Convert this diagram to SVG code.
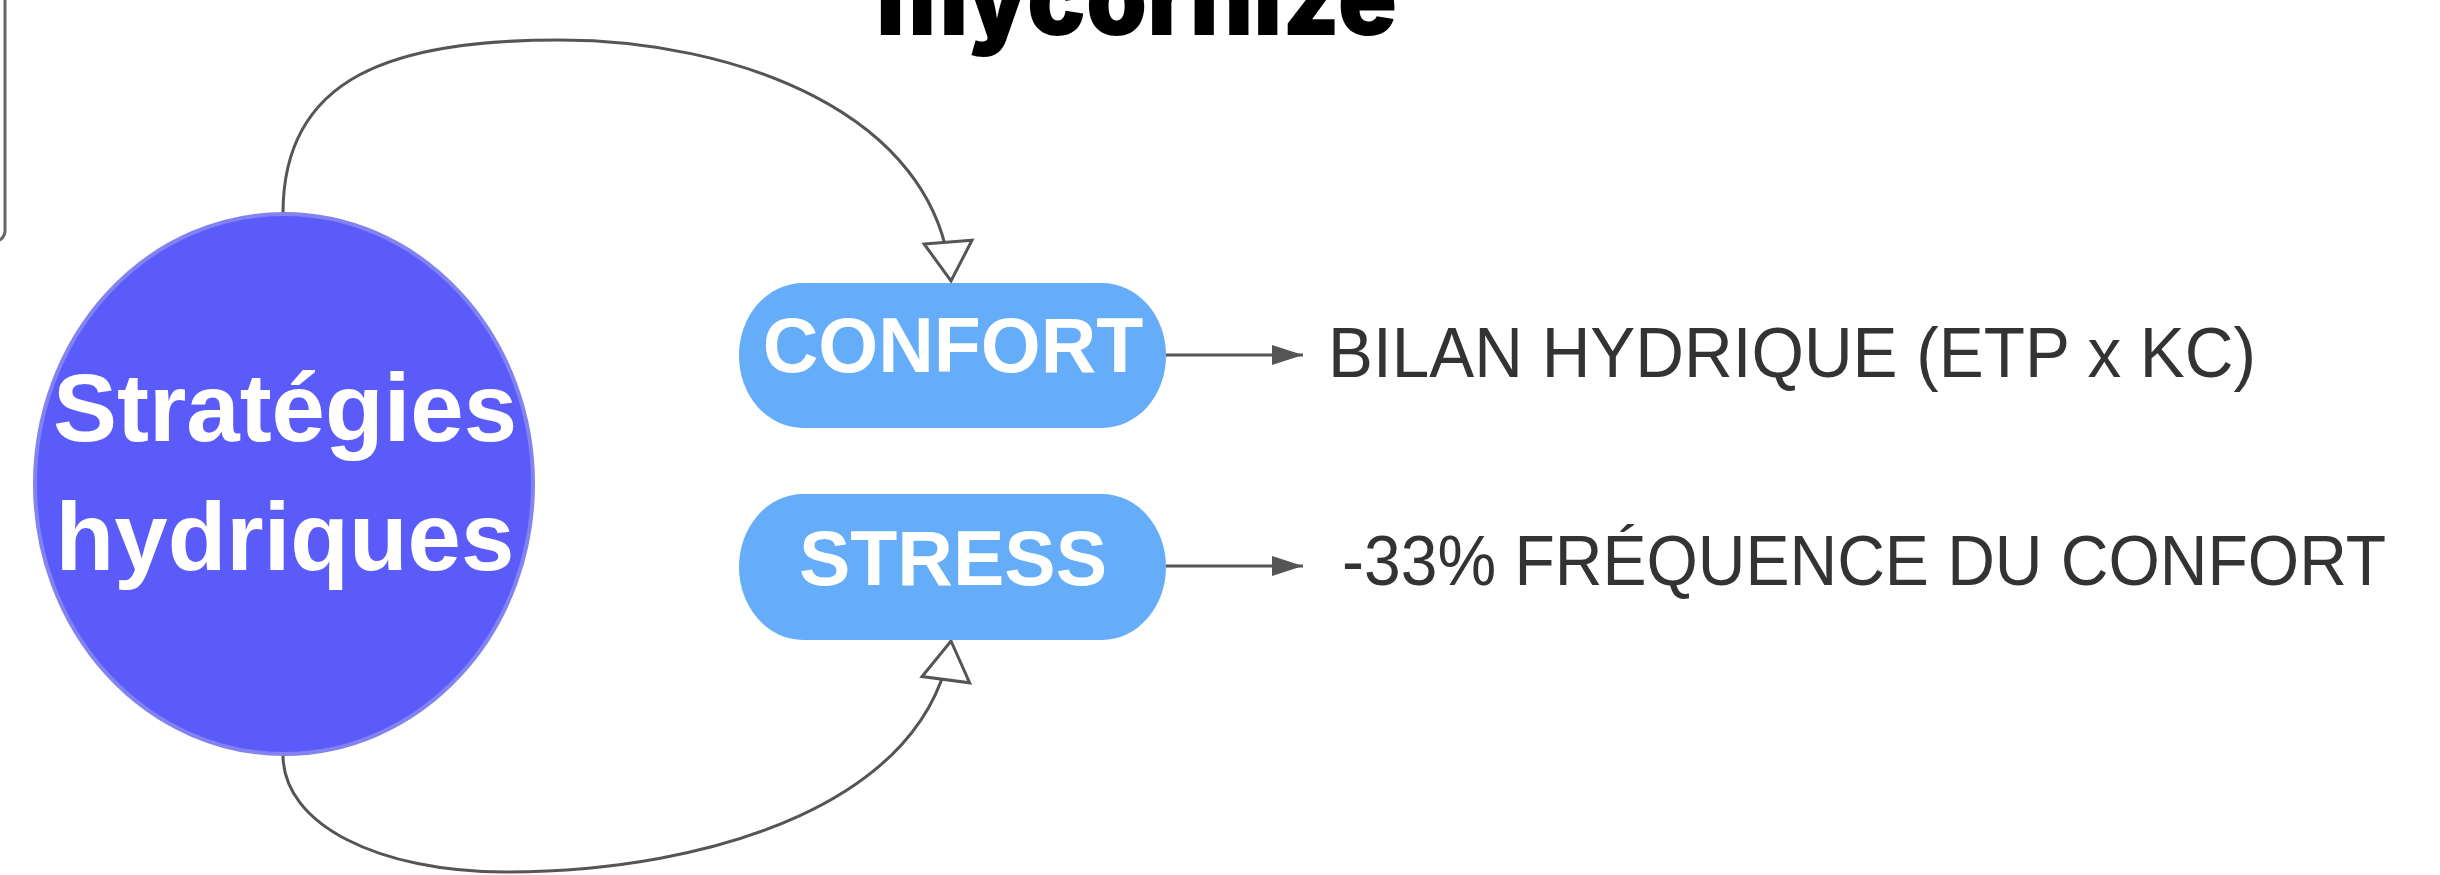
<svg xmlns="http://www.w3.org/2000/svg" width="2440" height="875" viewBox="0 0 2440 875">
  <style>
    .link { fill: none; stroke: #555555; stroke-width: 3; }
    .pill { fill: #66ADF9; }
    .pill-label { font-family: "Liberation Sans", Arial, sans-serif; font-weight: bold; font-size: 77px; fill: #FFFFFF; text-anchor: middle; }
    .note { font-family: "Liberation Sans", Arial, sans-serif; font-size: 70px; fill: #333333; }
    .hub-label { font-family: "Liberation Sans", Arial, sans-serif; font-weight: bold; font-size: 96px; fill: #FFFFFF; text-anchor: middle; }
  </style>
  <defs>
    <marker id="open-tri" markerUnits="userSpaceOnUse" markerWidth="44" markerHeight="52" refX="41" refY="25" orient="auto" overflow="visible">
      <path d="M2,1 L41,25 L2,49 Z" fill="#FFFFFF" stroke="#555555" stroke-width="3" stroke-linejoin="miter"/>
    </marker>
    <marker id="solid-tri" markerUnits="userSpaceOnUse" markerWidth="32" markerHeight="22" refX="31" refY="11" orient="auto" overflow="visible">
      <path d="M0,1 L31,11 L0,21 Z" fill="#555555"/>
    </marker>
  </defs>

  <rect width="2440" height="875" fill="#FFFFFF"/>

  <!-- frame edge at the top-left corner -->
  <rect id="frame" x="-200" y="-200" width="205" height="441" rx="10" fill="none" stroke="#666666" stroke-width="3"/>

  <!-- heading -->
  <g id="heading">
    <text x="876" y="35" textLength="521" lengthAdjust="spacingAndGlyphs" font-family="Inter, 'Liberation Sans', sans-serif" font-weight="900" font-size="106" fill="#000000">mycornize</text>
  </g>

  <!-- connectors -->
  <g id="connectors">
    <path class="link" marker-end="url(#open-tri)" d="M283,213 C283,75 395,40 560,40 C730,40 938,110 951,281"/>
    <path class="link" marker-end="url(#open-tri)" d="M283,755 C283,825 380,872 505,872 C715,872 930,800 951,641"/>
    <path class="link" marker-end="url(#solid-tri)" d="M1166,355 L1303,355"/>
    <path class="link" marker-end="url(#solid-tri)" d="M1166,566 L1303,566"/>
  </g>

  <!-- central node -->
  <g id="node-strategies">
    <ellipse cx="284" cy="484" rx="249" ry="270" fill="#5B5BF9" stroke="#8282F2" stroke-width="4"/>
    <text class="hub-label" x="285" y="441">Stratégies</text>
    <text class="hub-label" x="285" y="570">hydriques</text>
  </g>

  <g id="node-confort">
    <rect class="pill" x="739" y="283" width="427" height="145" rx="64" ry="72"/>
    <text class="pill-label" x="953" y="372">CONFORT</text>
  </g>

  <g id="node-stress">
    <rect class="pill" x="739" y="494" width="427" height="146" rx="64" ry="73"/>
    <text class="pill-label" x="953" y="585">STRESS</text>
  </g>

  <g id="note-confort">
    <text class="note" x="1328" y="377" textLength="928" lengthAdjust="spacingAndGlyphs">BILAN HYDRIQUE (ETP x KC)</text>
  </g>

  <g id="note-stress">
    <text class="note" x="1342" y="585" textLength="1044" lengthAdjust="spacingAndGlyphs">-33% FRÉQUENCE DU CONFORT</text>
  </g>
</svg>
